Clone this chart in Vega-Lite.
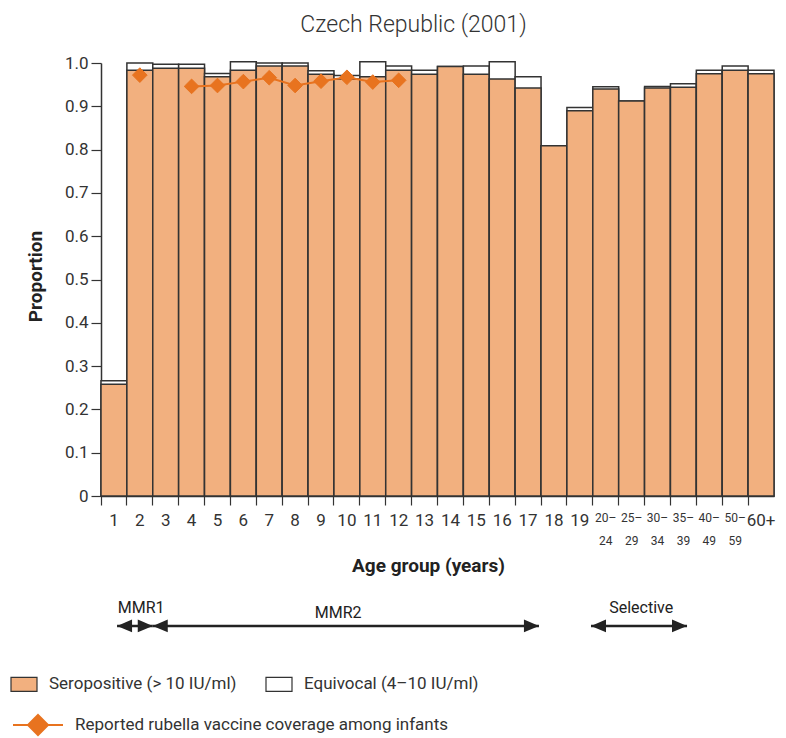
{
  "$schema": "https://vega.github.io/schema/vega-lite/v6.json",
  "width": 673,
  "height": 433,
  "autosize": "none",
  "padding": {"left": 101, "top": 63, "right": 12, "bottom": 242},
  "background": "white",
  "config": {"font": "Roboto", "view": {"stroke": null}},
  "title": {"text": "Czech Republic (2001)", "fontSize": 23, "fontWeight": 300, "color": "#333", "offset": 4, "dx": -24, "dy": 5, "baseline": "alphabetic"},
  "datasets": {
    "bars": [
      {"age": "1", "sero": 0.258, "total": 0.266, "cov": null},
      {"age": "2", "sero": 0.983, "total": 1.0, "cov": 0.972},
      {"age": "3", "sero": 0.988, "total": 0.997, "cov": null},
      {"age": "4", "sero": 0.988, "total": 0.997, "cov": 0.946},
      {"age": "5", "sero": 0.968, "total": 0.976, "cov": 0.948},
      {"age": "6", "sero": 0.983, "total": 1.003, "cov": 0.957},
      {"age": "7", "sero": 0.993, "total": 1.0, "cov": 0.966},
      {"age": "8", "sero": 0.993, "total": 1.0, "cov": 0.948},
      {"age": "9", "sero": 0.974, "total": 0.982, "cov": 0.958},
      {"age": "10", "sero": 0.963, "total": 0.971, "cov": 0.967},
      {"age": "11", "sero": 0.968, "total": 1.003, "cov": 0.956},
      {"age": "12", "sero": 0.983, "total": 0.993, "cov": 0.96},
      {"age": "13", "sero": 0.974, "total": 0.983, "cov": null},
      {"age": "14", "sero": 0.992, "total": 0.992, "cov": null},
      {"age": "15", "sero": 0.974, "total": 0.993, "cov": null},
      {"age": "16", "sero": 0.963, "total": 1.003, "cov": null},
      {"age": "17", "sero": 0.942, "total": 0.968, "cov": null},
      {"age": "18", "sero": 0.809, "total": 0.809, "cov": null},
      {"age": "19", "sero": 0.89, "total": 0.897, "cov": null},
      {"age": "20–24", "sero": 0.94, "total": 0.945, "cov": null},
      {"age": "25–29", "sero": 0.912, "total": 0.912, "cov": null},
      {"age": "30–34", "sero": 0.942, "total": 0.946, "cov": null},
      {"age": "35–39", "sero": 0.944, "total": 0.952, "cov": null},
      {"age": "40–49", "sero": 0.975, "total": 0.983, "cov": null},
      {"age": "50–59", "sero": 0.983, "total": 0.993, "cov": null},
      {"age": "60+", "sero": 0.975, "total": 0.983, "cov": null}
    ],
    "arrows": [
      {"name": "MMR1", "from": "1", "to": "2", "lab": "2"},
      {"name": "MMR2", "from": "3", "to": "17", "lab": "10"},
      {"name": "Selective", "from": "19", "to": "35–39", "lab": "25–29"}
    ]
  },
  "encoding": {
    "x": {
      "field": "age", "type": "nominal", "sort": null, "title": "Age group (years)",
      "scale": {"domain": ["1","2","3","4","5","6","7","8","9","10","11","12","13","14","15","16","17","18","19","20–24","25–29","30–34","35–39","40–49","50–59","60+"], "paddingInner": 0, "paddingOuter": 0},
      "axis": {
        "title": "Age group (years)",
        "bandPosition": 0, "tickSize": 9, "labelAngle": 0,
        "labelFontSize": {"condition": {"test": "length(datum.value) > 3", "value": 12}, "value": 17},
        "labelExpr": "length(datum.value) > 3 ? [substring(datum.value,0,3), substring(datum.value,3)] : datum.value",
        "labelLineHeight": 23, "labelPadding": 7, "labelBaseline": "top",
        "labelColor": "#333", "domainColor": "#333", "tickColor": "#333", "domainWidth": 1.5, "tickWidth": 1.2,
        "titleFontSize": 19, "titleFontWeight": "bold", "titleColor": "#222",
        "titleX": 327, "titleY": 69, "titleBaseline": "middle"
      }
    }
  },
  "layer": [
    {
      "data": {"name": "bars"},
      "transform": [{"fold": ["total", "sero"], "as": ["part", "value"]}],
      "mark": {"type": "bar", "stroke": "#333", "strokeWidth": 1.5},
      "encoding": {
        "y": {
          "field": "value", "type": "quantitative", "title": "Proportion", "stack": null,
          "scale": {"domain": [0, 1], "nice": false},
          "axis": {
            "title": "Proportion", "values": [0, 0.1, 0.2, 0.3, 0.4, 0.5, 0.6, 0.7, 0.8, 0.9, 1.0],
            "labelExpr": "datum.value == 0 ? '0' : format(datum.value, '.1f')",
            "grid": false, "tickSize": 10, "labelPadding": 3, "labelFontSize": 17, "labelColor": "#333",
            "domainColor": "#333", "tickColor": "#333", "domainWidth": 1.5, "tickWidth": 1.2,
            "titleFontSize": 19, "titleFontWeight": "bold", "titleColor": "#222",
            "titleX": -66, "titleY": 213, "titleAngle": -90, "titleAlign": "center", "titleBaseline": "middle"
          }
        },
        "fill": {
          "field": "part", "type": "nominal",
          "scale": {"domain": ["sero", "total"], "range": ["#f2b07f", "#ffffff"]},
          "legend": {
            "orient": "none", "legendX": -88, "legendY": 610, "direction": "horizontal", "title": null,
            "labelExpr": "datum.value == 'sero' ? 'Seropositive (> 10 IU/ml)' : 'Equivocal (4–10 IU/ml)'",
            "symbolType": "M-1.3,-0.7H1.3V0.7H-1.3Z", "symbolSize": 400,
            "symbolStrokeColor": "#333", "symbolStrokeWidth": 1.2,
            "labelFontSize": 17, "labelColor": "#333", "labelOffset": 14, "columnPadding": 26, "labelLimit": 0
          }
        }
      }
    },
    {
      "data": {"name": "bars"},
      "transform": [{"filter": "datum.cov != null && datum.age != '2'"}],
      "mark": {"type": "line", "strokeWidth": 2, "color": "#e8731f"},
      "encoding": {
        "y": {"field": "cov", "type": "quantitative", "title": "Proportion"}
      }
    },
    {
      "data": {"name": "bars"},
      "transform": [{"filter": "datum.cov != null"}, {"fold": ["cov"], "as": ["series", "cv"]}],
      "mark": {"type": "point", "shape": "diamond", "size": 215, "filled": true, "fill": "#e8731f", "strokeWidth": 1, "opacity": 1},
      "encoding": {
        "y": {"field": "cv", "type": "quantitative", "title": "Proportion"},
        "stroke": {
          "field": "series", "type": "nominal",
          "scale": {"domain": ["cov"], "range": ["#e8731f"]},
          "legend": {
            "orient": "none", "legendX": -74, "legendY": 651, "title": null,
            "labelExpr": "'Reported rubella vaccine coverage among infants'",
            "symbolType": "M-2.5,0L-0.9,0M0.9,0L2.5,0M0,-1L1,0L0,1L-1,0Z", "symbolSize": 400,
            "symbolFillColor": "#e8731f", "symbolStrokeColor": "#e8731f", "symbolStrokeWidth": 2, "symbolOpacity": 1,
            "labelFontSize": 17, "labelColor": "#333", "labelOffset": 26, "labelLimit": 0
          }
        }
      }
    },
    {
      "data": {"name": "arrows"},
      "transform": [{"filter": "datum.name == 'MMR1'"}],
      "layer": [
        {"mark": {"type": "rule", "strokeWidth": 2.5, "color": "#222"},
         "encoding": {"x": {"field": "from", "type": "nominal", "bandPosition": 0.62, "title": "Age group (years)"}, "x2": {"field": "to", "bandPosition": 1}, "y": {"datum": -0.3, "type": "quantitative"}}},
        {"mark": {"type": "point", "shape": "M-1,0L1,-0.85L1,0.85Z", "size": 225, "filled": true, "color": "#222", "opacity": 1, "xOffset": 7.5},
         "encoding": {"x": {"field": "from", "type": "nominal", "bandPosition": 0.62, "title": "Age group (years)"}, "y": {"datum": -0.3, "type": "quantitative"}}},
        {"mark": {"type": "point", "shape": "M1,0L-1,-0.85L-1,0.85Z", "size": 225, "filled": true, "color": "#222", "opacity": 1, "xOffset": -7.5},
         "encoding": {"x": {"field": "to", "type": "nominal", "bandPosition": 1, "title": "Age group (years)"}, "y": {"datum": -0.3, "type": "quantitative"}}},
        {"mark": {"type": "text", "fontSize": 16, "color": "#222"},
         "encoding": {"x": {"field": "lab", "type": "nominal", "bandPosition": 0.55, "title": "Age group (years)"}, "y": {"datum": -0.259, "type": "quantitative"}, "text": {"field": "name"}}}
      ]
    },
    {
      "data": {"name": "arrows"},
      "transform": [{"filter": "datum.name == 'MMR2'"}],
      "layer": [
        {"mark": {"type": "rule", "strokeWidth": 2.5, "color": "#222"},
         "encoding": {"x": {"field": "from", "type": "nominal", "bandPosition": 0, "title": "Age group (years)"}, "x2": {"field": "to", "bandPosition": 0.92}, "y": {"datum": -0.3, "type": "quantitative"}}},
        {"mark": {"type": "point", "shape": "M-1,0L1,-0.85L1,0.85Z", "size": 225, "filled": true, "color": "#222", "opacity": 1, "xOffset": 7.5},
         "encoding": {"x": {"field": "from", "type": "nominal", "bandPosition": 0, "title": "Age group (years)"}, "y": {"datum": -0.3, "type": "quantitative"}}},
        {"mark": {"type": "point", "shape": "M1,0L-1,-0.85L-1,0.85Z", "size": 225, "filled": true, "color": "#222", "opacity": 1, "xOffset": -7.5},
         "encoding": {"x": {"field": "to", "type": "nominal", "bandPosition": 0.92, "title": "Age group (years)"}, "y": {"datum": -0.3, "type": "quantitative"}}},
        {"mark": {"type": "text", "fontSize": 16, "color": "#222"},
         "encoding": {"x": {"field": "lab", "type": "nominal", "bandPosition": 0.16, "title": "Age group (years)"}, "y": {"datum": -0.27, "type": "quantitative"}, "text": {"field": "name"}}}
      ]
    },
    {
      "data": {"name": "arrows"},
      "transform": [{"filter": "datum.name == 'Selective'"}],
      "layer": [
        {"mark": {"type": "rule", "strokeWidth": 2.5, "color": "#222"},
         "encoding": {"x": {"field": "from", "type": "nominal", "bandPosition": 0.93, "title": "Age group (years)"}, "x2": {"field": "to", "bandPosition": 0.64}, "y": {"datum": -0.3, "type": "quantitative"}}},
        {"mark": {"type": "point", "shape": "M-1,0L1,-0.85L1,0.85Z", "size": 225, "filled": true, "color": "#222", "opacity": 1, "xOffset": 7.5},
         "encoding": {"x": {"field": "from", "type": "nominal", "bandPosition": 0.93, "title": "Age group (years)"}, "y": {"datum": -0.3, "type": "quantitative"}}},
        {"mark": {"type": "point", "shape": "M1,0L-1,-0.85L-1,0.85Z", "size": 225, "filled": true, "color": "#222", "opacity": 1, "xOffset": -7.5},
         "encoding": {"x": {"field": "to", "type": "nominal", "bandPosition": 0.64, "title": "Age group (years)"}, "y": {"datum": -0.3, "type": "quantitative"}}},
        {"mark": {"type": "text", "fontSize": 16, "color": "#222"},
         "encoding": {"x": {"field": "lab", "type": "nominal", "bandPosition": 0.87, "title": "Age group (years)"}, "y": {"datum": -0.259, "type": "quantitative"}, "text": {"field": "name"}}}
      ]
    }
  ]
}
